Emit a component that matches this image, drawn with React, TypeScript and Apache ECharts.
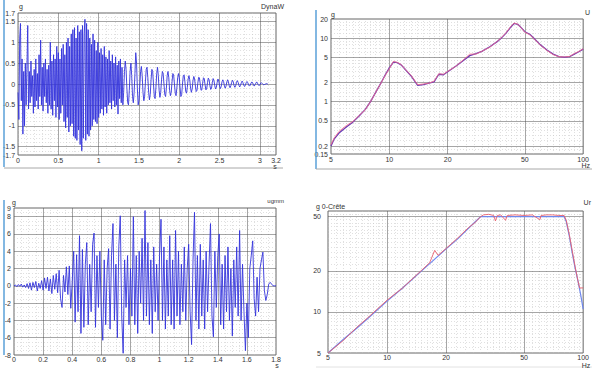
import React, { useEffect, useRef } from 'react';
import * as echarts from 'echarts';

// ---------- DATA ----------
// Panel 1: acceleration time history (g), sampled every 0.01 s from 0 s
const wave1Dt = 0.01;
const wave1: number[] = [
  -0.2, -0.85, 1.1, 1.45, -0.4, 0.6, -1.2, 0.3, -1.0, 0.5,
  -0.5, 0.4, 1.4, -0.6, 0.3, -0.45, 0.55, -0.3, 0.2, -0.7,
  0.35, -0.55, 0.6, -0.4, 0.25, -0.6, 0.7, -0.3, 1.05, -0.5,
  0.4, -0.65, 0.5, -0.3, 0.6, -0.45, 0.35, -0.7, 0.45, -0.5,
  1.0, -0.6, 0.55, -0.75, 0.7, -0.4, 0.6, -0.8, 0.9, -0.55,
  0.75, -0.85, 0.6, -0.7, 0.85, -0.5, 0.95, -0.9, 0.7, -1.05,
  1.0, -0.8, 1.1, -1.15, 0.9, -1.0, 1.2, -0.95, 1.3, -1.25,
  1.35, -1.3, 1.1, -1.35, 1.4, -1.1, 1.25, -1.45, 1.3, -1.6,
  1.4, -1.3, 1.2, 1.55, -1.35, 1.45, -1.2, 1.3, -1.25, 1.1,
  -1.1, 0.95, -1.0, 1.2, -0.85, 1.05, -0.9, 0.8, -0.95, 1.0,
  -0.8, 0.75, -0.7, 0.85, -0.6, 0.7, -0.75, 0.9, -0.55, 0.65,
  -0.7, 0.6, -0.5, 0.8, -0.45, 0.55, -0.6, 0.7, -0.4, 0.5,
  -0.55, 0.65, -0.5, 0.45, -0.72, 0.55, -0.35, 0.6, -0.45, 0.4,
  -0.5, -0.2, 0.3, 0.55, 0.35, -0.1, -0.45, -0.5, -0.15, 0.3,
  0.5, 0.2, -0.3, -0.45, -0.2, 0.25, 0.75, 0.5, -0.1, -0.5,
  -0.4, -0.05, 0.3, 0.42, 0.2, -0.2, -0.4, -0.3, 0.05, 0.35,
  0.4, 0.15, -0.2, -0.38, -0.25, 0.1, 0.35, 0.3, 0.0, -0.3,
  -0.35, -0.1, 0.25, 0.4, 0.2, -0.15, -0.32, -0.2, 0.1, 0.3,
  0.25, 0.0, -0.25, -0.3, -0.1, 0.2, 0.3, 0.15, -0.15, -0.28,
  -0.2, 0.05, 0.25, 0.22, 0.0, -0.22, -0.28, -0.1, 0.15, 0.25,
  0.15, -0.1, -0.3, -0.25, 0.0, 0.2, 0.22, 0.05, -0.18, -0.22,
  -0.08, 0.12, 0.2, 0.1, -0.1, -0.2, -0.12, 0.08, 0.18, 0.12,
  -0.05, -0.18, -0.15, 0.02, 0.16, 0.15, 0.0, -0.15, -0.14, 0.02,
  0.15, 0.13, -0.02, -0.14, -0.12, 0.03, 0.14, 0.1, -0.04, -0.13,
  -0.1, 0.03, 0.13, 0.09, -0.04, -0.12, -0.08, 0.04, 0.12, 0.07,
  -0.05, -0.11, -0.06, 0.05, 0.1, 0.06, -0.05, -0.1, -0.05, 0.05,
  0.1, 0.05, -0.05, -0.09, -0.04, 0.04, 0.09, 0.05, -0.04, -0.08,
  -0.04, 0.04, 0.08, 0.04, -0.03, -0.07, -0.03, 0.03, 0.07, 0.03,
  -0.03, -0.06, -0.03, 0.03, 0.06, 0.03, -0.02, -0.05, -0.03, 0.02,
  0.05, 0.03, -0.02, -0.05, -0.02, 0.02, 0.05, 0.02, -0.02, -0.04,
  -0.02, 0.02, 0.03, 0.01, -0.01, -0.02, -0.01, 0.0, 0.01, 0.0,
  0.0,
];

// Panel 2: response spectrum (g) vs frequency (Hz)
const freq2 = [5, 5.2, 5.5, 6, 6.5, 7, 7.5, 8, 8.5, 9, 9.5, 10, 10.5, 11, 11.5, 12, 13, 14, 15, 16, 17, 18, 19, 20, 22, 24, 26, 28, 30, 33, 36, 38, 40, 42, 44, 46, 48, 50, 53, 56, 60, 65, 70, 75, 80, 85, 90, 95, 100];
const resp2Blue = [0.2, 0.26, 0.32, 0.4, 0.48, 0.6, 0.75, 1.0, 1.4, 1.9, 2.6, 3.4, 4.2, 4.1, 3.8, 3.3, 2.5, 1.8, 1.85, 1.95, 2.05, 2.7, 2.65, 2.95, 3.6, 4.4, 5.3, 5.7, 6.2, 7.3, 8.8, 10.2, 12, 14.5, 17, 16.5, 14.5, 12.6, 11.5, 9.8, 7.9, 6.5, 5.6, 5.1, 5.0, 5.1, 5.6, 6.1, 6.7];
const resp2Pink = [0.21, 0.27, 0.34, 0.42, 0.49, 0.61, 0.74, 1.0, 1.4, 1.9, 2.55, 3.3, 4.3, 4.15, 3.85, 3.3, 2.55, 1.85, 1.9, 1.95, 2.1, 2.75, 2.7, 3.0, 3.6, 4.5, 5.6, 5.6, 6.2, 7.2, 8.9, 10.3, 12.2, 14.8, 17.3, 16.6, 14.4, 12.4, 11.3, 9.7, 7.8, 6.4, 5.5, 5.1, 5.05, 5.15, 5.7, 6.2, 6.8];

// Panel 3: acceleration time history (g), sampled every 0.01 s from 0 s
const wave3Dt = 0.01;
const wave3: number[] = [
  0, 0.1, -0.1, 0.15, -0.05, 0.2, -0.15, 0.1, -0.2, 0.25,
  -0.3, 0.35, -0.5, 0.4, -0.2, 0.5, -0.6, 0.3, -0.3, 0.6,
  -0.5, 0.9, -0.3, 1.0, -0.6, 0.8, -0.9, 1.2, -0.4, 1.4,
  -0.8, 1.8, -1.5, -2.5, 1.2, -0.7, 2.2, -1.0, 2.3, -2.6,
  0.5, 4.0, -4.2, 3.6, -3.0, 5.8, -5.5, 4.2, -4.8, 2.5,
  5.0, -4.5, 2.5, -3.0, 4.8, 6.1, -4.8, 3.5, -2.5, 4.0,
  -3.5, -6.3, 3.0, -4.5, 2.0, 4.3, -5.0, 3.5, 7.2, -4.0,
  2.5, -6.0, 4.5, 8.1, -3.5, -7.8, 3.0, -2.5, 3.5, -4.5,
  2.0, -3.5, 8.0, -4.5, 3.5, -5.5, 4.0, -2.0, 5.5, -4.0,
  8.7, -3.5, 5.0, -4.5, 3.0, -5.5, 4.5, -3.0, 2.5, -4.0,
  3.5, 7.7, -4.0, 4.5, -5.0, 3.0, -3.5, 5.8, -4.5, 3.0,
  -5.0, 6.4, -3.5, 4.0, -4.5, 2.5, -3.0, 4.5, -4.0, 2.0,
  4.8, -3.0, -6.8, 3.0, 8.5, -4.0, 3.5, -5.0, 4.8, -3.5,
  3.0, -5.0, 4.0, -3.0, 2.5, 7.2, -3.5, -5.9, 4.0, -2.5,
  3.5, 6.0, -4.5, 2.5, -5.0, 3.5, -3.0, 4.5, -4.0, 2.0,
  -5.8, 3.0, -2.5, 4.5, -3.5, 6.4, -4.0, 2.5, -3.0, -7.5,
  -2.0, -6.0, 2.0, 3.5, 5.2, -1.5, -3.5, 1.0, -3.0, 2.0,
  3.0, 3.9, -0.5, -1.7, -1.0, 0.2, 0.4, 0.2, 0.0, 0.0,
  0.0,
];

// Panel 4: peak spectrum (g 0-Crête) vs frequency (Hz)
const freq4Blue = [5, 6, 7, 8, 10, 12, 15, 17, 20, 23, 26, 28, 30, 31, 40, 50, 60, 70, 80, 82, 85, 88, 91, 94, 97, 100];
const peak4Blue = [5, 6.3, 7.6, 9.0, 12, 15, 20, 23.5, 29, 34.5, 41, 45.5, 50, 50, 50, 50, 50, 50, 50, 46, 36, 27, 21, 17, 13.5, 10.5];
const freq4Red = [5, 6, 7, 8, 10, 12, 15, 16.5, 17.5, 18.2, 20, 23, 26, 28, 30, 31, 33, 35, 35.7, 36.5, 38, 40.2, 41, 45, 50, 55, 60.2, 61, 65, 70, 75, 80, 82, 85, 88, 91, 94, 96, 100];
const peak4Red = [5, 6.2, 7.7, 9.1, 12.2, 15, 20.2, 23, 28.3, 26, 29.2, 35, 41.5, 45, 50, 51.5, 52, 51, 46.5, 51, 51.5, 47, 51, 51.5, 51, 51.5, 47.5, 51, 51.5, 51.5, 51, 51, 47, 37, 28, 21.5, 17, 15, 15];

// Tick labels
const ticks1X = [0, 0.5, 1, 1.5, 2, 2.5, 3, 3.2];
const ticks1Y = [-1.7, -1.5, -1, -0.5, 0, 0.5, 1, 1.5, 1.7];
const ticks2X = [5, 10, 20, 50, 100];
const ticks2Y = [0.15, 0.2, 0.5, 1, 2, 5, 10, 20];
const ticks3X = [0, 0.2, 0.4, 0.6, 0.8, 1, 1.2, 1.4, 1.6, 1.8];
const ticks3Y = [-8, -6, -4, -2, 0, 2, 4, 6, 8, 9];
const ticks4X = [5, 10, 20, 50, 100];
const ticks4Y = [5, 10, 20, 50, 55];

// Major grid lines
const major1X = [0.5, 1, 1.5, 2, 2.5, 3];
const major1Y = [-1.5, -1, -0.5, 0, 0.5, 1, 1.5];
const major2X = [10, 20, 50];
const major2Y = [0.2, 0.5, 1, 2, 5, 10];
const major3X = [0.2, 0.4, 0.6, 0.8, 1, 1.2, 1.4, 1.6];
const major3Y = [-6, -4, -2, 0, 2, 4, 6, 8];
const major4X = [10, 20, 50];
const major4Y = [10, 20, 50];

// Minor grid lines (log panels)
const minorLogX = [5.5, 6, 6.5, 7, 7.5, 8, 8.5, 9, 9.5, 11, 12, 13, 14, 15, 16, 17, 18, 19, 22.5, 25, 27.5, 30, 32.5, 35, 37.5, 40, 42.5, 45, 47.5, 55, 60, 65, 70, 75, 80, 85, 90, 95];
const minor2Y = [0.175, 0.25, 0.3, 0.35, 0.4, 0.45, 0.6, 0.7, 0.8, 0.9, 1.2, 1.4, 1.6, 1.8, 2.5, 3, 3.5, 4, 4.5, 6, 7, 8, 9, 12, 14, 16, 18];
const minor4Y = [5.5, 6, 6.5, 7, 7.5, 8, 8.5, 9, 9.5, 11, 12, 13, 14, 15, 16, 17, 18, 19, 22.5, 25, 27.5, 30, 32.5, 35, 37.5, 40, 42.5, 45, 47.5, 52.5];

// ---------- helpers ----------
const rnd = (v: number) => Math.round(v * 1000) / 1000;
const fmt = (v: number) => String(Math.round(v * 100) / 100);
const lg = (v: number) => Math.log10(v);
const idt = (v: number) => v;

function range(from: number, to: number, step: number, skipEvery: number): number[] {
  const out: number[] = [];
  for (let k = Math.round(from / step); k <= Math.round(to / step); k++) {
    if (k % skipEvery !== 0) out.push(rnd(k * step));
  }
  return out;
}

const minor1X = range(0.1, 3.1, 0.1, 5);
const minor1Y = range(-1.6, 1.6, 0.1, 5);
const minor3X = range(0.05, 1.75, 0.05, 4);
const minor3Y = range(-7.5, 8.5, 0.5, 4);

const MAJOR = { color: '#4d4d4d', width: 1, type: 'solid' as const };
const MINOR = { color: '#c2c2c2', width: 1, type: [1, 2] as any };

function gridData(xr: number[], yr: number[], majX: number[], majY: number[], minX: number[], minY: number[], t: (v: number) => number) {
  const items: any[] = [];
  minX.forEach((v) => items.push({ coords: [[t(v), t(yr[0])], [t(v), t(yr[1])]], lineStyle: MINOR }));
  minY.forEach((v) => items.push({ coords: [[t(xr[0]), t(v)], [t(xr[1]), t(v)]], lineStyle: MINOR }));
  majX.forEach((v) => items.push({ coords: [[t(v), t(yr[0])], [t(v), t(yr[1])]], lineStyle: MAJOR }));
  majY.forEach((v) => items.push({ coords: [[t(xr[0]), t(v)], [t(xr[1]), t(v)]], lineStyle: MAJOR }));
  return items;
}

const FONT = 'Liberation Sans';
const LABEL = { fontSize: 7, color: '#333', fontFamily: FONT };

function makeAxes(idx: number, xr: number[], yr: number[], tx: number[], ty: number[], log: boolean, mx: number, my: number) {
  const t = log ? lg : idt;
  const f = log ? (v: number) => fmt(Math.pow(10, v)) : (v: number) => fmt(v);
  const common = { axisLine: { show: false }, axisTick: { show: false }, splitLine: { show: false } };
  return {
    x: {
      type: 'value', gridIndex: idx, min: t(xr[0]), max: t(xr[1]), ...common,
      axisLabel: { ...LABEL, margin: mx, customValues: tx.map(t), formatter: f },
    },
    y: {
      type: 'value', gridIndex: idx, min: t(yr[0]), max: t(yr[1]), ...common,
      axisLabel: { ...LABEL, margin: my, customValues: ty.map(t), formatter: f },
    },
  };
}

export default function App() {
  const ref = useRef<HTMLDivElement>(null);
  useEffect(() => {
    if (!ref.current) return;
    const chart = echarts.init(ref.current, undefined, { renderer: 'svg' });

    const xr1 = [0, 3.2], yr1 = [-1.7, 1.7];
    const xr2 = [5, 100], yr2 = [0.15, 20];
    const xr3 = [0, 1.8], yr3 = [-8, 9];
    const xr4 = [5, 100], yr4 = [5, 55];

    const a1 = makeAxes(0, xr1, yr1, ticks1X, ticks1Y, false, 2, 3);
    const a2 = makeAxes(1, xr2, yr2, ticks2X, ticks2Y, true, 2, 3);
    const a3 = makeAxes(2, xr3, yr3, ticks3X, ticks3Y, false, 1, 3);
    const a4 = makeAxes(3, xr4, yr4, ticks4X, ticks4Y, true, 1, 7);

    const gridStyle = { show: true, borderColor: '#666', borderWidth: 1, backgroundColor: 'transparent' };

    const gridSeries = (i: number, data: any[]) => ({
      type: 'lines', coordinateSystem: 'cartesian2d', xAxisIndex: i, yAxisIndex: i,
      silent: true, z: 1, polyline: false, data, symbol: 'none',
    });

    const lineSeries = (i: number, data: any[], color: string, width = 1, opacity = 1) => ({
      type: 'line', xAxisIndex: i, yAxisIndex: i, data, showSymbol: false, symbol: 'none',
      silent: true, z: 3, lineStyle: { color, width, opacity }, clip: true,
    });

    const d1 = wave1.map((v, i) => [rnd(i * wave1Dt), v]);
    const d3 = wave3.map((v, i) => [rnd(i * wave3Dt), v]);
    const d2b = freq2.map((f, i) => [lg(f), lg(resp2Blue[i])]);
    const d2p = freq2.map((f, i) => [lg(f), lg(resp2Pink[i])]);
    const d4b = freq4Blue.map((f, i) => [lg(f), lg(peak4Blue[i])]);
    const d4r = freq4Red.map((f, i) => [lg(f), lg(peak4Red[i])]);

    const txt = (text: string, x: number, y: number, align = 'left', size = 7) => ({
      type: 'text', x, y, silent: true, z: 10,
      style: { text, fill: '#333', fontSize: size, fontFamily: FONT, textAlign: align, textVerticalAlign: 'middle' },
    });
    const ln = (x1: number, y1: number, x2: number, y2: number, stroke: string, w = 1) => ({
      type: 'line', silent: true, z: 10, shape: { x1, y1, x2, y2 }, style: { stroke, lineWidth: w },
    });

    chart.setOption({
      animation: false,
      backgroundColor: '#ffffff',
      grid: [
        { left: 18, top: 13, width: 258, height: 142, ...gridStyle },
        { left: 331, top: 19, width: 258, height: 135, ...gridStyle },
        { left: 14, top: 208, width: 262, height: 147, ...gridStyle },
        { left: 328, top: 211, width: 259, height: 142, ...gridStyle },
      ],
      xAxis: [a1.x, a2.x, a3.x, a4.x],
      yAxis: [a1.y, a2.y, a3.y, a4.y],
      series: [
        gridSeries(0, gridData(xr1, yr1, major1X, major1Y, minor1X, minor1Y, idt)),
        gridSeries(1, gridData(xr2, yr2, major2X, major2Y, minorLogX, minor2Y, lg)),
        gridSeries(2, gridData(xr3, yr3, major3X, major3Y, minor3X, minor3Y, idt)),
        gridSeries(3, gridData(xr4, yr4, major4X, major4Y, minorLogX, minor4Y, lg)),
        lineSeries(0, d1, '#3434dc', 1, 0.9),
        lineSeries(1, d2b, '#6a3cb4', 1.3),
        lineSeries(1, d2p, '#f06a8c', 1, 0.85),
        lineSeries(2, d3, '#3434dc', 1, 0.9),
        lineSeries(3, d4b, '#6f88ee', 1.2),
        lineSeries(3, d4r, '#e8606e', 1, 0.9),
      ],
      graphic: [
        ln(4, 0, 4, 167, '#5aa0d8', 1.5),
        ln(316, 10, 316, 169, '#5aa0d8', 1.5),
        ln(4, 200, 4, 355, '#5aa0d8', 1.5),
        ln(4, 168, 283, 168, '#a8a8a8', 1),
        ln(316, 169, 592, 169, '#a8a8a8', 1),
        ln(316, 367, 592, 367, '#e2e2e2', 1),
        txt('g', 19, 6),
        txt('DynaW', 284, 6, 'right'),
        txt('s', 275, 166, 'center'),
        txt('g', 331, 14),
        txt('U', 590, 12, 'right'),
        txt('Hz', 590, 165, 'right'),
        txt('g', 12, 202),
        txt('ugmm', 284, 201, 'right', 6),
        txt('s', 277, 365, 'center'),
        txt('g 0-Crête', 316, 206),
        txt('Ur', 591, 202, 'right'),
        txt('Hz', 586, 365, 'center'),
      ],
    });
    return () => chart.dispose();
  }, []);
  return <div ref={ref} style={{ position: 'fixed', left: 0, top: 0, width: 592, height: 374, background: '#fff' }} />;
}
